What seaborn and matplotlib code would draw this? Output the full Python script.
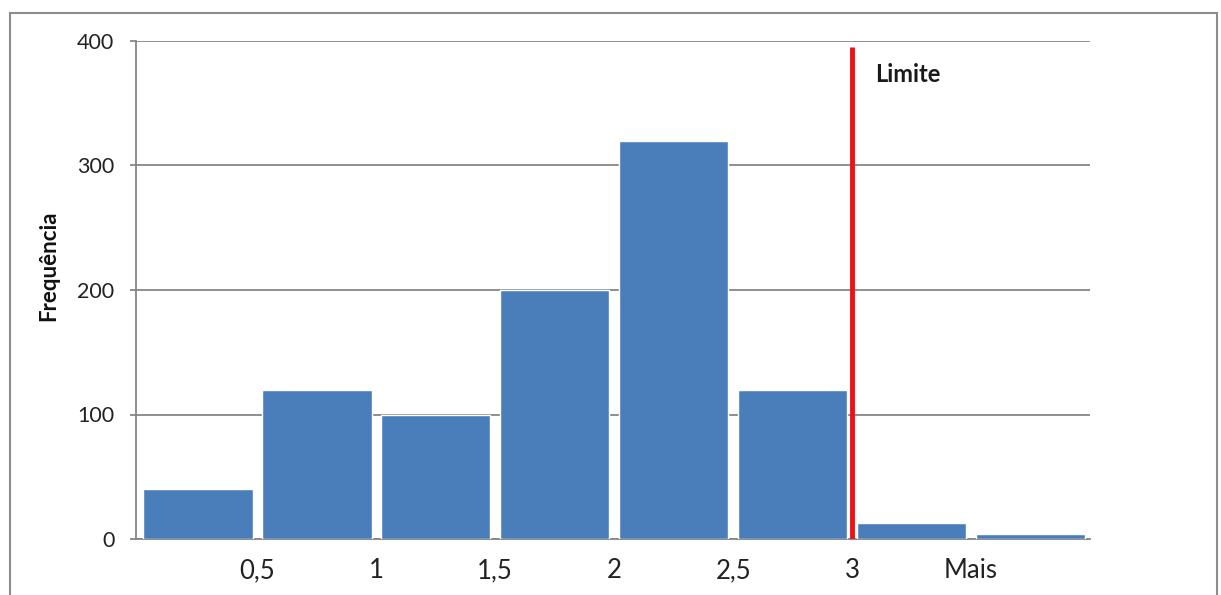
import numpy as np
import pandas as pd
import matplotlib
matplotlib.use("Agg")
import matplotlib.pyplot as plt
import seaborn as sns
from matplotlib.patches import Rectangle

# histogram data
bins = ["b1", "b2", "b3", "b4", "b5", "b6", "b7", "b8"]
counts = [40, 120, 100, 200, 320, 120, 13, 4]
tick_labels = ["0,5", "1", "1,5", "2", "2,5", "3", "Mais"]
limit_pos = 5.5      # red line sits between bin 6 and bin 7
limit_top = 395

sns.set_theme(style="white")
plt.rcParams["font.family"] = ["Lato", "DejaVu Sans"]

df = pd.DataFrame({"bin": bins, "count": counts})

fig = plt.figure(figsize=(12.21, 5.95), dpi=100)
W, H = 1221, 595
ax = fig.add_axes([136 / W, (H - 539) / H, (1090 - 136) / W, (539 - 41) / H])

sns.barplot(data=df, x="bin", y="count", color="#4a7ebb", saturation=1,
            width=0.92, ax=ax, zorder=3)

ax.set_ylim(0, 400)
ax.set_xlim(-0.52, 7.5)
ax.set_yticks([0, 100, 200, 300, 400])
ax.yaxis.grid(True, color="#868686", linewidth=1.3, zorder=0)
ax.set_axisbelow(True)
ax.set_xticks(np.arange(len(tick_labels)) + 0.5)
ax.set_xticklabels(tick_labels, fontsize=18.5, color="#222222")
ax.tick_params(axis="x", length=0, pad=14)
ax.tick_params(axis="y", length=4.5, width=1.3, color="#868686", labelsize=15.5,
               labelcolor="#222222", pad=11, left=True)
for s in ["top", "right"]:
    ax.spines[s].set_visible(False)
for s in ["left", "bottom"]:
    ax.spines[s].set_color("#868686")
    ax.spines[s].set_linewidth(1.3)
ax.set_xlabel("")
ax.set_ylabel("")

# limit line
ax.vlines(limit_pos, 0, limit_top, color="#ee1111", linewidth=3.5, zorder=4)
ax.text(limit_pos + 0.19, 373, "Limite", fontsize=17, fontweight="bold",
        color="#1a1a1a", va="center", ha="left")

fig.text(49 / W, (H - 266) / H, "Frequência", rotation=90, fontsize=16,
         fontweight="bold", ha="center", va="center", color="#111111")

# outer chart frame
fig.patches.append(Rectangle((10 / W, -0.05), (1217 - 10) / W, (H - 13) / H + 0.05,
                             transform=fig.transFigure, fill=False,
                             edgecolor="#8c8c8c", linewidth=1.5))

fig.savefig("out.png", dpi=100)
